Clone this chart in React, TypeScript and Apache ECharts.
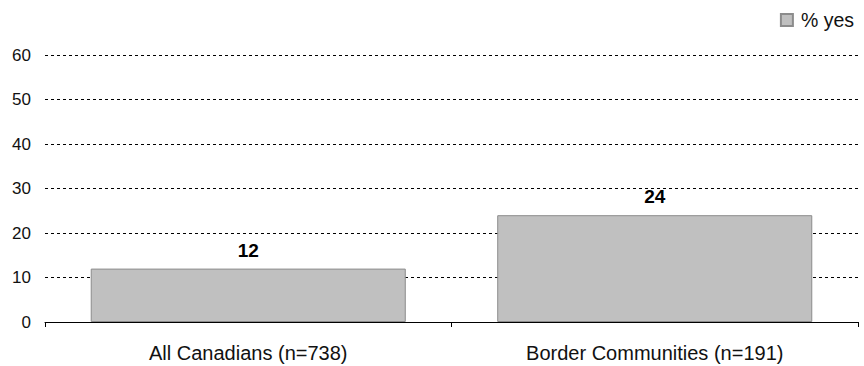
import React, { useEffect, useRef } from "react";
import * as echarts from "echarts";

const categories = ["All Canadians (n=738)", "Border Communities (n=191)"];
const seriesName = "% yes";
const values = [12, 24];
const yTicks = { min: 0, max: 60, interval: 10 };

export default function App() {
  const ref = useRef<HTMLDivElement>(null);
  useEffect(() => {
    const chart = echarts.init(ref.current!, null, { renderer: "svg" });
    const font = "'Liberation Sans', Arial, sans-serif";
    chart.setOption({
      animation: false,
      textStyle: { fontFamily: font },
      legend: {
        right: 5,
        top: 5,
        itemWidth: 12,
        itemHeight: 12,
        itemGap: 5,
        textStyle: { fontFamily: font, fontSize: 19.5, color: "#111", padding: [0, 0, 0, 3] },
        data: [{ name: seriesName, icon: "rect" }],
      },
      grid: { left: 45, right: 6, top: 55, bottom: 44 },
      xAxis: {
        type: "category",
        data: categories,
        axisLine: { lineStyle: { color: "#000", width: 1 } },
        axisTick: { show: true, length: 5, inside: false, lineStyle: { color: "#000" } },
        axisLabel: { fontFamily: font, fontSize: 20, color: "#111", margin: 21 },
      },
      yAxis: {
        type: "value",
        min: yTicks.min,
        max: yTicks.max,
        interval: yTicks.interval,
        axisLine: { show: false },
        axisTick: { show: false },
        axisLabel: { fontFamily: font, fontSize: 17, color: "#111", margin: 14 },
        splitLine: { lineStyle: { color: "#000", type: [3, 3], width: 1 } },
      },
      series: [
        {
          name: seriesName,
          type: "bar",
          data: values,
          barWidth: "77.5%",
          itemStyle: { color: "#c0c0c0", borderColor: "#8c8c8c", borderWidth: 1 },
          label: {
            show: true,
            position: "top",
            distance: 9,
            fontFamily: font,
            fontSize: 19,
            fontWeight: "bold",
            color: "#000",
          },
        },
      ],
    });
    return () => chart.dispose();
  }, []);
  return (
    <div
      ref={ref}
      style={{ position: "absolute", left: 0, top: 0, width: 864, height: 366, background: "#fff" }}
    />
  );
}
